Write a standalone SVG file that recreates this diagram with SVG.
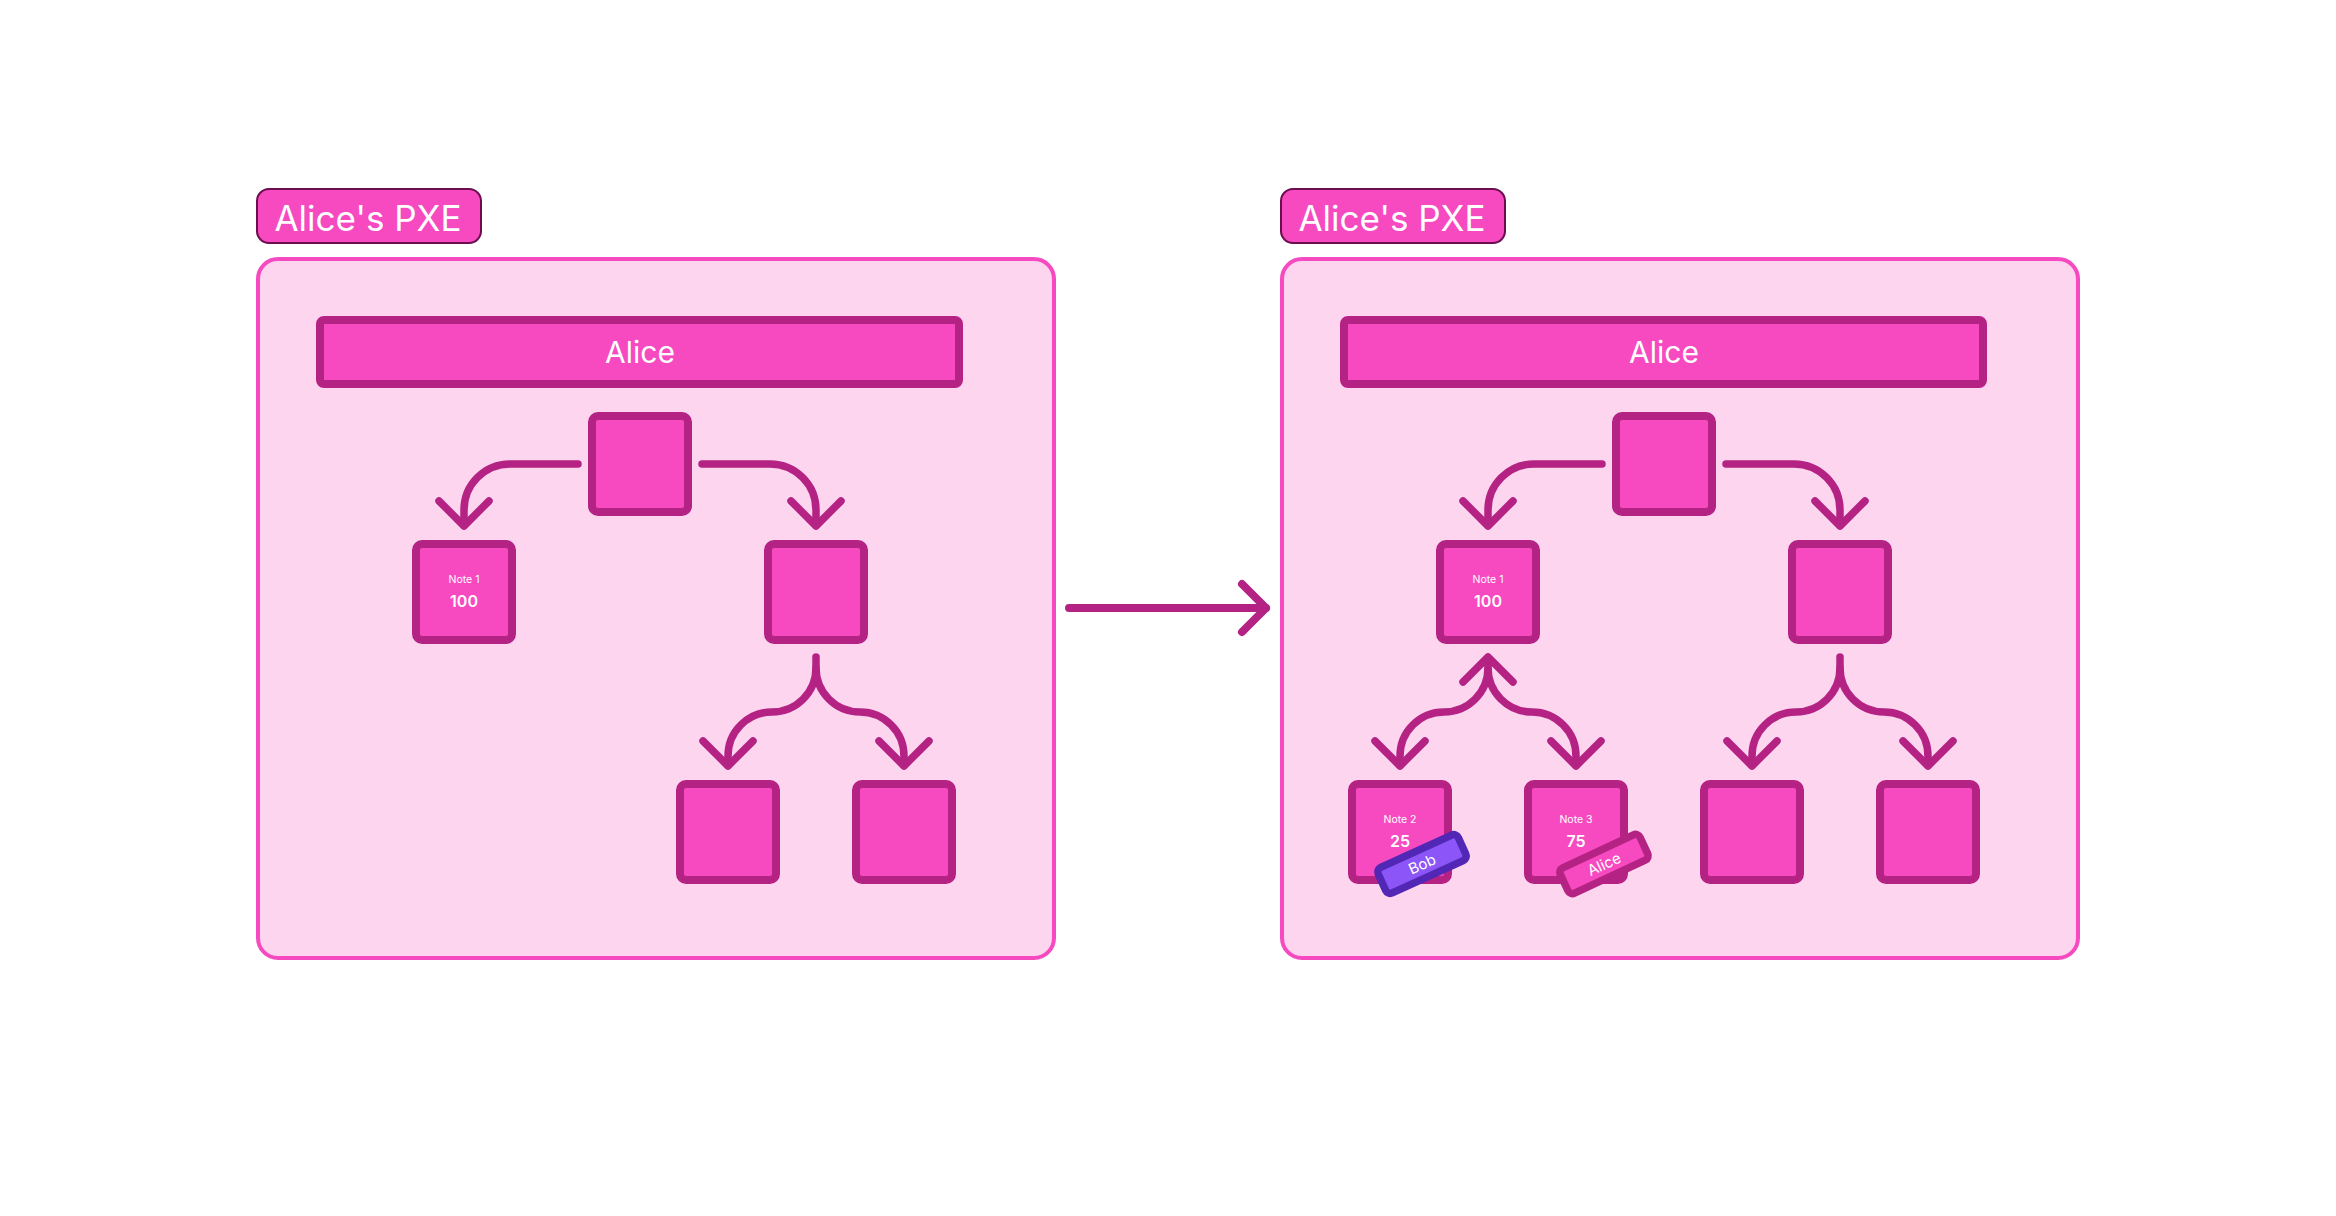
<svg xmlns="http://www.w3.org/2000/svg" width="2336" height="1216" viewBox="0 0 2336 1216">
  <defs>
    <style>
      .panel { fill: #FDD5EF; stroke: #F64BC0; stroke-width: 4; }
      .badge { fill: #F74AC0; stroke: #6B0D4E; stroke-width: 2; }
      .badge-text { font-family: Inter, "Liberation Sans", sans-serif; font-size: 35px; fill: #FFFFFF; text-anchor: middle; }
      .bar { fill: #F74AC0; stroke: #B42383; stroke-width: 8; }
      .bar-text { font-family: Inter, "Liberation Sans", sans-serif; font-size: 30px; fill: #FFFFFF; text-anchor: middle; }
      .box { fill: #F74AC0; stroke: #B42383; stroke-width: 8; }
      .note-label { font-family: Inter, "Liberation Sans", sans-serif; font-size: 10.5px; fill: #FFFFFF; text-anchor: middle; }
      .note-value { font-family: Inter, "Liberation Sans", sans-serif; font-size: 16px; font-weight: 600; fill: #FFFFFF; text-anchor: middle; }
      .link { fill: none; stroke: #B42383; stroke-width: 7.5; stroke-linecap: round; stroke-linejoin: round; }
      .link-main { fill: none; stroke: #B42383; stroke-width: 8; stroke-linecap: round; stroke-linejoin: round; }
      .tag-bob { fill: #8B55F7; stroke: #5227B5; stroke-width: 7.5; }
      .tag-alice { fill: #F74AC0; stroke: #B42383; stroke-width: 7.5; }
      .tag-text { font-family: Inter, "Liberation Sans", sans-serif; font-size: 15px; fill: #FFFFFF; text-anchor: middle; }
    </style>
  </defs>

  <rect width="2336" height="1216" fill="#FFFFFF"/>

  <!-- Left: Alice's PXE before -->
  <g id="pxe-left">
    <rect class="panel" x="258" y="259" width="796" height="699" rx="20"/>
    <g id="pxe-left-badge">
      <rect class="badge" x="257" y="189" width="224" height="54" rx="12"/>
      <text class="badge-text" x="368" y="231">Alice's PXE</text>
    </g>
    <g id="pxe-left-owner">
      <rect class="bar" x="320" y="320" width="639" height="64" rx="4"/>
      <text class="bar-text" x="640" y="363">Alice</text>
    </g>
    <g id="left-root"><rect class="box" x="592" y="416" width="96" height="96" rx="6"/></g>
    <g id="left-note1">
      <rect class="box" x="416" y="544" width="96" height="96" rx="6"/>
      <text class="note-label" x="464" y="583">Note 1</text>
      <text class="note-value" x="464" y="607">100</text>
    </g>
    <g id="left-right"><rect class="box" x="768" y="544" width="96" height="96" rx="6"/></g>
    <g id="left-right-a"><rect class="box" x="680" y="784" width="96" height="96" rx="6"/></g>
    <g id="left-right-b"><rect class="box" x="856" y="784" width="96" height="96" rx="6"/></g>
  </g>

  <!-- Right: Alice's PXE after the split -->
  <g id="pxe-right">
    <rect class="panel" x="1282" y="259" width="796" height="699" rx="20"/>
    <g id="pxe-right-badge">
      <rect class="badge" x="1281" y="189" width="224" height="54" rx="12"/>
      <text class="badge-text" x="1392" y="231">Alice's PXE</text>
    </g>
    <g id="pxe-right-owner">
      <rect class="bar" x="1344" y="320" width="639" height="64" rx="4"/>
      <text class="bar-text" x="1664" y="363">Alice</text>
    </g>
    <g id="right-root"><rect class="box" x="1616" y="416" width="96" height="96" rx="6"/></g>
    <g id="right-note1">
      <rect class="box" x="1440" y="544" width="96" height="96" rx="6"/>
      <text class="note-label" x="1488" y="583">Note 1</text>
      <text class="note-value" x="1488" y="607">100</text>
    </g>
    <g id="right-right"><rect class="box" x="1792" y="544" width="96" height="96" rx="6"/></g>
    <g id="right-note2">
      <rect class="box" x="1352" y="784" width="96" height="96" rx="6"/>
      <text class="note-label" x="1400" y="823">Note 2</text>
      <text class="note-value" x="1400" y="847">25</text>
      <g transform="translate(1422 864) rotate(-24.5)">
        <rect class="tag-bob" x="-44" y="-14" width="88" height="28" rx="5"/>
        <text class="tag-text" x="0" y="5.5">Bob</text>
      </g>
    </g>
    <g id="right-note3">
      <rect class="box" x="1528" y="784" width="96" height="96" rx="6"/>
      <text class="note-label" x="1576" y="823">Note 3</text>
      <text class="note-value" x="1576" y="847">75</text>
      <g transform="translate(1604 864) rotate(-25)">
        <rect class="tag-alice" x="-44" y="-14" width="88" height="28" rx="5"/>
        <text class="tag-text" x="0" y="5.5">Alice</text>
      </g>
    </g>
    <g id="right-right-a"><rect class="box" x="1704" y="784" width="96" height="96" rx="6"/></g>
    <g id="right-right-b"><rect class="box" x="1880" y="784" width="96" height="96" rx="6"/></g>
  </g>

  <!-- Connectors -->
  <g id="connectors">
    <!-- left panel -->
    <path class="link" d="M578 464 H510 A46 46 0 0 0 464 510 V525"/>
    <path class="link" d="M439 501 L464 526 L489 501"/>
    <path class="link" d="M702 464 H770 A46 46 0 0 1 816 510 V525"/>
    <path class="link" d="M791 501 L816 526 L841 501"/>
    <path class="link" d="M816 657 V668 A44 44 0 0 1 772 712 A44 44 0 0 0 728 756 V765"/>
    <path class="link" d="M816 668 A44 44 0 0 0 860 712 A44 44 0 0 1 904 756 V765"/>
    <path class="link" d="M703 741 L728 766 L753 741"/>
    <path class="link" d="M879 741 L904 766 L929 741"/>

    <!-- right panel -->
    <path class="link" d="M1602 464 H1534 A46 46 0 0 0 1488 510 V525"/>
    <path class="link" d="M1463 501 L1488 526 L1513 501"/>
    <path class="link" d="M1726 464 H1794 A46 46 0 0 1 1840 510 V525"/>
    <path class="link" d="M1815 501 L1840 526 L1865 501"/>
    <path class="link" d="M1840 657 V668 A44 44 0 0 1 1796 712 A44 44 0 0 0 1752 756 V765"/>
    <path class="link" d="M1840 668 A44 44 0 0 0 1884 712 A44 44 0 0 1 1928 756 V765"/>
    <path class="link" d="M1727 741 L1752 766 L1777 741"/>
    <path class="link" d="M1903 741 L1928 766 L1953 741"/>
    <path class="link" d="M1488 658 V668 A44 44 0 0 1 1444 712 A44 44 0 0 0 1400 756 V765"/>
    <path class="link" d="M1488 668 A44 44 0 0 0 1532 712 A44 44 0 0 1 1576 756 V765"/>
    <path class="link" d="M1463 682 L1488 657 L1513 682"/>
    <path class="link" d="M1375 741 L1400 766 L1425 741"/>
    <path class="link" d="M1551 741 L1576 766 L1601 741"/>

    <!-- between panels -->
    <path class="link-main" d="M1069 608 H1266"/>
    <path class="link-main" d="M1242 584 L1266 608 L1242 632"/>
  </g>
</svg>
